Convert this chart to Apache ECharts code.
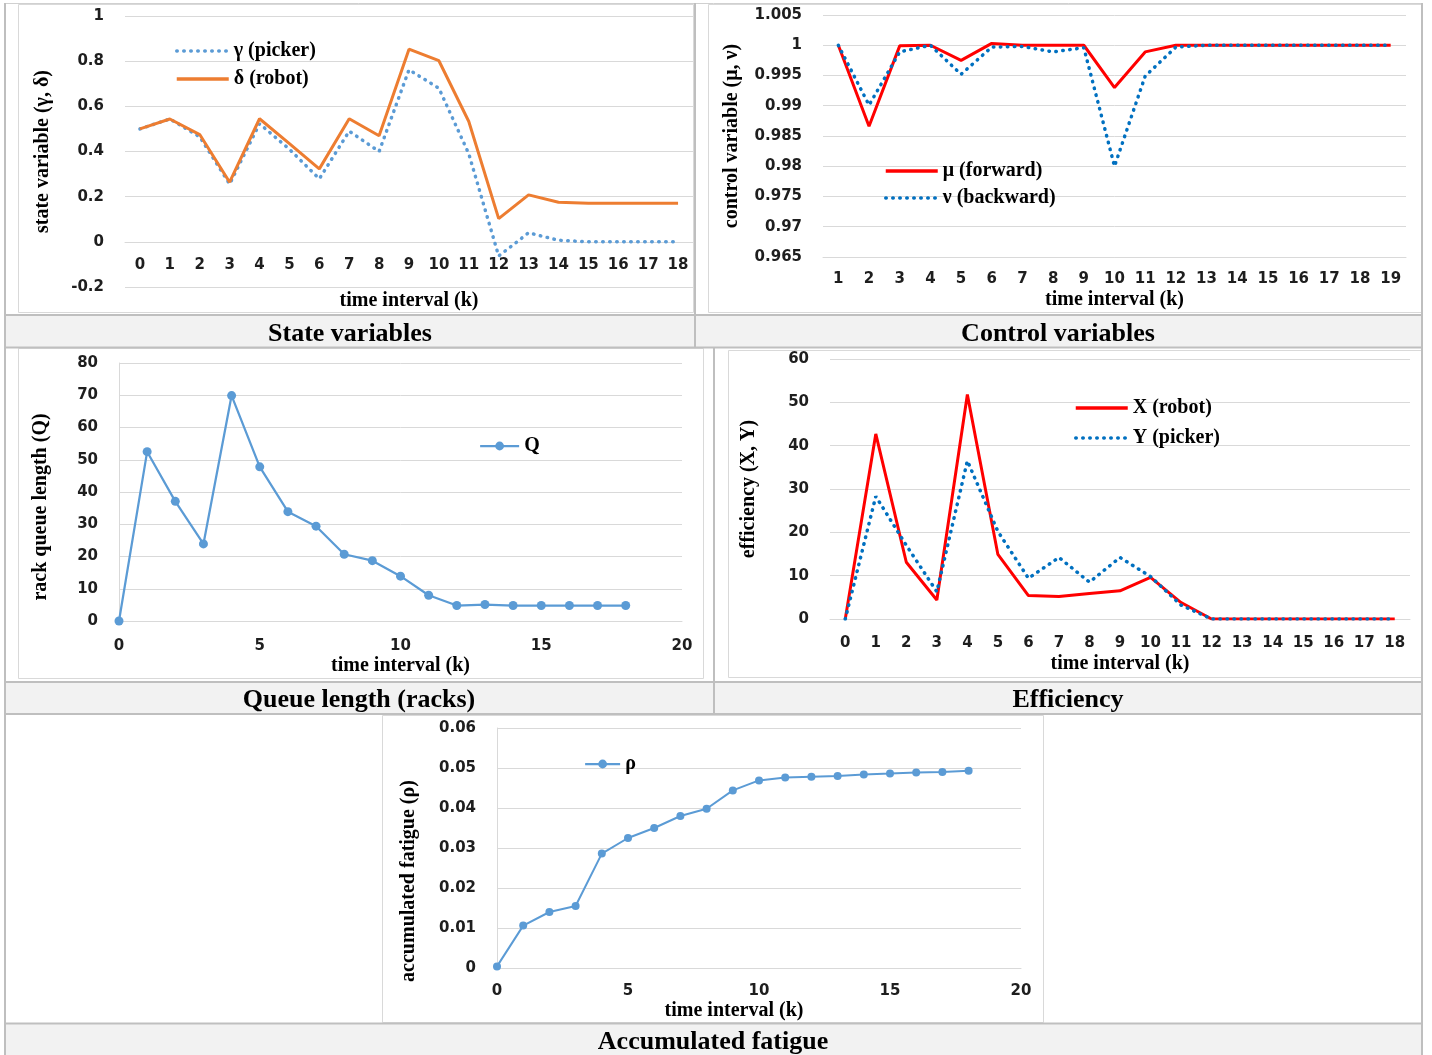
<!DOCTYPE html>
<html>
<head>
<meta charset="utf-8">
<script src="https://cdn.jsdelivr.net/npm/echarts@6/dist/echarts.min.js"></script>
<style>
html,body{margin:0;padding:0;background:#fff;}
#c{width:1432px;height:1055px;}
</style>
</head>
<body>
<div id="c"></div>
<script>
// ---------- DATA ----------
const kState = ['0','1','2','3','4','5','6','7','8','9','10','11','12','13','14','15','16','17','18'];
const gammaPicker = [0.50, 0.544, 0.465, 0.256, 0.523, 0.41, 0.279, 0.49, 0.40, 0.762, 0.68, 0.39, -0.063, 0.04, 0.007, 0.0, 0.0, 0.0, 0.0];
const deltaRobot = [0.50, 0.544, 0.475, 0.264, 0.545, 0.435, 0.323, 0.545, 0.47, 0.853, 0.802, 0.533, 0.103, 0.208, 0.175, 0.171, 0.171, 0.171, 0.171];

const kControl = ['1','2','3','4','5','6','7','8','9','10','11','12','13','14','15','16','17','18','19'];
const muForward = [1.0, 0.9866, 0.9999, 1.0, 0.9975, 1.0003, 1.0, 1.0, 1.0, 0.9930, 0.9989, 1.0, 1.0, 1.0, 1.0, 1.0, 1.0, 1.0, 1.0];
const nuBackward = [1.0, 0.9901, 0.9989, 1.0, 0.9952, 0.9997, 0.9998, 0.9989, 0.9996, 0.9800, 0.9949, 0.9997, 1.0, 1.0, 1.0, 1.0, 1.0, 1.0, 1.0];

const kQueue = [0,1,2,3,4,5,6,7,8,9,10,11,12,13,14,15,16,17,18];
const queueQ = [0, 52.5, 37.1, 23.9, 69.9, 47.8, 33.9, 29.4, 20.7, 18.7, 13.9, 8.0, 4.8, 5.1, 4.8, 4.8, 4.8, 4.8, 4.8];

const kEff = ['0','1','2','3','4','5','6','7','8','9','10','11','12','13','14','15','16','17','18'];
const effX = [0, 42.7, 13.1, 4.4, 51.8, 14.9, 5.4, 5.2, 5.9, 6.5, 9.6, 3.8, 0, 0, 0, 0, 0, 0, 0];
const effY = [0, 28.3, 17.0, 6.3, 36.5, 20.2, 9.4, 14.2, 8.5, 14.2, 9.8, 3.2, 0, 0, 0, 0, 0, 0, 0];

const kFatigue = [0,1,2,3,4,5,6,7,8,9,10,11,12,13,14,15,16,17,18];
const fatigueRho = [0.0004, 0.0106, 0.0140, 0.0155, 0.0286, 0.0325, 0.0350, 0.0380, 0.0398, 0.0444, 0.0469, 0.0476, 0.0478, 0.0480, 0.0484, 0.0486, 0.0489, 0.0490, 0.0493];

const captions = ['State variables', 'Control variables', 'Queue length (racks)', 'Efficiency', 'Accumulated fatigue'];
const axisNames = {
  x: 'time interval (k)',
  y: ['state variable (γ, δ)', 'control variable (μ, ν)', 'rack queue length (Q)', 'efficiency (X, Y)', 'accumulated fatigue (ρ)']
};

// ---------- STYLE ----------
const SERIF = '"Liberation Serif", "Times New Roman", serif';
const SANS = '"DejaVu Sans", Verdana, sans-serif';
const GRID = '#d9d9d9';
const TABLE = '#bfbfbf';
const tick = {color: '#1e1e1e', fontFamily: SANS, fontWeight: 'bold', fontSize: 15};
const nameStyle = {color: '#000', fontFamily: SERIF, fontWeight: 'bold', fontSize: 20};
const legendText = {color: '#000', fontFamily: SERIF, fontWeight: 'bold', fontSize: 20};

const dotted = (color, w) => ({color: color, width: w, type: [0.5, 6.5], cap: 'round'});

function catX(idx, data, margin, nameGap, offset) {
  return {
    type: 'category', gridIndex: idx, data: data, boundaryGap: true, offset: offset,
    axisLine: {show: true, onZero: false, lineStyle: {color: GRID, width: 1}},
    axisTick: {show: false},
    axisLabel: Object.assign({interval: 0, margin: margin}, tick),
    name: axisNames.x, nameLocation: 'middle', nameGap: nameGap, nameTextStyle: nameStyle
  };
}
function valX(idx, margin, nameGap, extraName) {
  return {
    type: 'value', gridIndex: idx, min: 0, max: 20, interval: 5,
    axisLine: {show: true, onZero: false, lineStyle: {color: GRID, width: 1}},
    axisTick: {show: false},
    splitLine: {show: false},
    axisLabel: Object.assign({margin: margin}, tick),
    name: axisNames.x, nameLocation: 'middle', nameGap: nameGap,
    nameTextStyle: Object.assign({}, nameStyle, extraName || {})
  };
}
function valY(idx, min, max, interval, nameGap, showLine, extraName) {
  return {
    type: 'value', gridIndex: idx, min: min, max: max, interval: interval,
    axisLine: {show: showLine, onZero: false, lineStyle: {color: GRID, width: 1}},
    axisTick: {show: false},
    splitLine: {show: true, lineStyle: {color: GRID, width: 1}},
    axisLabel: Object.assign({margin: 21}, tick),
    name: axisNames.y[idx], nameLocation: 'middle', nameRotate: 90, nameGap: nameGap,
    nameTextStyle: Object.assign({}, nameStyle, extraName || {})
  };
}

// ---------- TABLE / CAPTIONS ----------
function hline(y, x1, x2, color, w) {
  return {type: 'line', shape: {x1: x1, y1: y, x2: x2, y2: y}, style: {stroke: color, lineWidth: w}, silent: true, z: 10};
}
function vline(x, y1, y2, color, w) {
  return {type: 'line', shape: {x1: x, y1: y1, x2: x, y2: y2}, style: {stroke: color, lineWidth: w}, silent: true, z: 10};
}
function frame(x, y, w, h) {
  return {type: 'rect', shape: {x: x, y: y, width: w, height: h}, style: {fill: null, stroke: GRID, lineWidth: 1}, silent: true, z: 1};
}
function capBg(y, h) {
  return {type: 'rect', shape: {x: 5, y: y, width: 1417, height: h}, style: {fill: '#f2f2f2'}, silent: true, z: 0};
}
function capText(txt, x, y) {
  return {type: 'text', x: x, y: y, silent: true, z: 11,
    style: {text: txt, align: 'center', verticalAlign: 'middle', fill: '#000',
      fontFamily: SERIF, fontWeight: 'bold', fontSize: 26}};
}

const graphics = [
  capBg(316, 31), capBg(683, 31), capBg(1024, 31),
  frame(18.5, 4.5, 675, 308), frame(708.5, 4.5, 713, 308),
  frame(18.5, 348.5, 685, 330), frame(728.5, 350.5, 693, 327),
  frame(382.5, 715.5, 661, 307),
  hline(3.5, 4, 1423, '#d0d0d0', 1),
  vline(5, 3, 1055, TABLE, 2), vline(1422, 3, 1055, TABLE, 2),
  hline(315, 4, 1423, TABLE, 2), hline(347.5, 4, 1423, TABLE, 2),
  hline(682, 4, 1423, TABLE, 2), hline(714, 4, 1423, TABLE, 2),
  hline(1023.5, 4, 1423, TABLE, 2),
  vline(695, 3, 348, TABLE, 2), vline(714, 347, 714, TABLE, 2),
  capText(captions[0], 350, 334), capText(captions[1], 1058, 334),
  capText(captions[2], 359, 700), capText(captions[3], 1068, 700),
  capText(captions[4], 713, 1042)
];

const noSymbol = {opacity: 0};
const legLine = {width: 3.5};
const legLineThin = {width: 2.25};

// ---------- OPTION ----------
const option = {
  animation: false,
  backgroundColor: '#fff',
  grid: [
    {left: 125, top: 16, width: 568, height: 271},
    {left: 823, top: 15, width: 583, height: 242},
    {left: 119, top: 363, width: 563, height: 258},
    {left: 830, top: 359, width: 580, height: 260},
    {left: 497, top: 728, width: 524, height: 240}
  ],
  xAxis: [
    catX(0, kState, 16, 49, -45),
    catX(1, kControl, 15, 33, 0),
    valX(2, 18, 35),
    catX(3, kEff, 17, 35, 0),
    valX(4, 16, 33, {padding: [0, 50, 0, 0]})
  ],
  yAxis: [
    valY(0, -0.2, 1, 0.2, 72, false),
    valY(1, 0.965, 1.005, 0.005, 81, false),
    valY(2, 0, 80, 10, 68, true, {padding: [0, 30, 0, 0]}),
    valY(3, 0, 60, 10, 71, false),
    valY(4, 0, 0.06, 0.01, 78, true, {padding: [0, 66, 0, 0]})
  ],
  legend: [
    {data: ['γ (picker)', 'δ (robot)'], orient: 'vertical', left: 170, top: 36, itemWidth: 52, itemHeight: 12, itemGap: 8, itemStyle: noSymbol, lineStyle: legLine, textStyle: legendText},
    {data: ['μ (forward)', 'ν (backward)'], orient: 'vertical', left: 879, top: 156, itemWidth: 52, itemHeight: 12, itemGap: 7, itemStyle: noSymbol, lineStyle: legLine, textStyle: legendText},
    {data: ['Q'], orient: 'vertical', left: 474, top: 431, itemWidth: 39, itemHeight: 11, lineStyle: legLineThin, textStyle: legendText},
    {data: ['X (robot)', 'Y (picker)'], orient: 'vertical', left: 1069, top: 393, itemWidth: 52, itemHeight: 12, itemGap: 10, itemStyle: noSymbol, lineStyle: legLine, textStyle: legendText},
    {data: ['ρ'], orient: 'vertical', left: 579, top: 749, itemWidth: 35, itemHeight: 11, lineStyle: legLineThin, textStyle: legendText}
  ],
  series: [
    {name: 'γ (picker)', type: 'line', xAxisIndex: 0, yAxisIndex: 0, data: gammaPicker, symbol: 'none',
      color: '#5B9BD5', lineStyle: dotted('#5B9BD5', 3.5)},
    {name: 'δ (robot)', type: 'line', xAxisIndex: 0, yAxisIndex: 0, data: deltaRobot, symbol: 'none',
      color: '#ED7D31', lineStyle: {color: '#ED7D31', width: 3}},
    {name: 'μ (forward)', type: 'line', xAxisIndex: 1, yAxisIndex: 1, data: muForward, symbol: 'none',
      color: '#FF0000', lineStyle: {color: '#FF0000', width: 3}},
    {name: 'ν (backward)', type: 'line', xAxisIndex: 1, yAxisIndex: 1, data: nuBackward, symbol: 'none',
      color: '#0070C0', lineStyle: dotted('#0070C0', 3.5)},
    {name: 'Q', type: 'line', xAxisIndex: 2, yAxisIndex: 2,
      data: kQueue.map((k, i) => [k, queueQ[i]]), symbol: 'circle', symbolSize: 9, showAllSymbol: true,
      color: '#5B9BD5', lineStyle: {color: '#5B9BD5', width: 2.25}, itemStyle: {color: '#5B9BD5'}},
    {name: 'X (robot)', type: 'line', xAxisIndex: 3, yAxisIndex: 3, data: effX, symbol: 'none',
      color: '#FF0000', lineStyle: {color: '#FF0000', width: 3}},
    {name: 'Y (picker)', type: 'line', xAxisIndex: 3, yAxisIndex: 3, data: effY, symbol: 'none',
      color: '#0070C0', lineStyle: dotted('#0070C0', 3.5)},
    {name: 'ρ', type: 'line', xAxisIndex: 4, yAxisIndex: 4,
      data: kFatigue.map((k, i) => [k, fatigueRho[i]]), symbol: 'circle', symbolSize: 8, showAllSymbol: true,
      color: '#5B9BD5', lineStyle: {color: '#5B9BD5', width: 2}, itemStyle: {color: '#5B9BD5'}}
  ],
  graphic: graphics
};

const chart = echarts.init(document.getElementById('c'), null, {renderer: 'canvas', width: 1432, height: 1055});
chart.setOption(option);
</script>
</body>
</html>
